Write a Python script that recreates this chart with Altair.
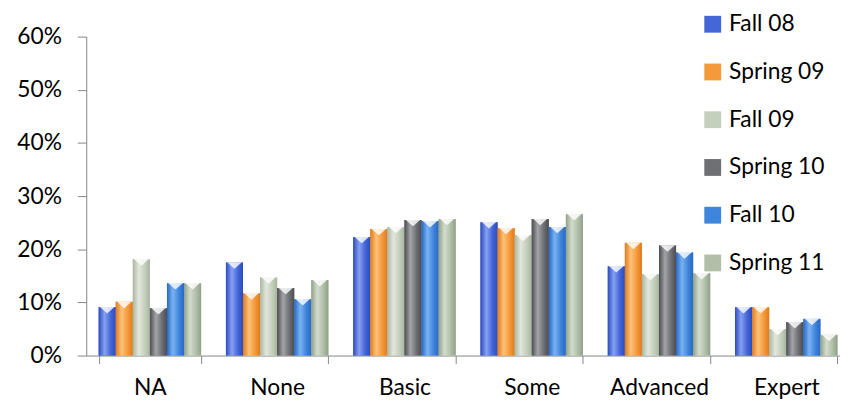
import altair as alt
import pandas as pd

categories = ["NA", "None", "Basic", "Some", "Advanced", "Expert"]
series = ["Fall 08", "Spring 09", "Fall 09", "Spring 10", "Fall 10", "Spring 11"]

fall08 = [9.1, 17.5, 22.3, 25.1, 16.8, 9.1]
spring09 = [10.1, 11.7, 23.8, 24.0, 21.2, 9.1]
fall09 = [18.1, 14.7, 24.2, 22.7, 15.3, 5.0]
spring10 = [8.9, 12.7, 25.5, 25.7, 20.7, 6.3]
fall10 = [13.6, 10.6, 25.3, 24.2, 19.4, 6.9]
spring11 = [13.6, 14.2, 25.7, 26.6, 15.5, 3.9]

base_colors = ["#4566d6", "#f49a3b", "#c5cfbd", "#6e7074", "#3f85db", "#b1bfa9"]
dark_colors = ["#2a4bbd", "#e07a1c", "#a9b5a0", "#4b4d51", "#2868c4", "#91a189"]
light_colors = ["#86a0f2", "#fcc27a", "#e2e8dc", "#a2a4a8", "#7ab2f2", "#d3dccd"]

y_ticks = [0, 10, 20, 30, 40, 50, 60]

all_values = [fall08, spring09, fall09, spring10, fall10, spring11]
rows = []
for s, vals in zip(series, all_values):
    for c, v in zip(categories, vals):
        rows.append({"category": c, "series": s, "value": v})
df = pd.DataFrame(rows)

FONT = "Lato"

x_enc = alt.X(
    "category:N",
    sort=categories,
    scale=alt.Scale(domain=categories, range=[0, 771], paddingInner=0.195, paddingOuter=0.0975),
    axis=alt.Axis(
        title=None, labelAngle=0, tickBand="extent", tickSize=8, labelPadding=13,
        labelFont=FONT, labelFontSize=23, labelColor="#000000",
        domainColor="#868686", tickColor="#868686", grid=False,
    ),
)
xo_enc = alt.XOffset(
    "series:N", sort=series,
    scale=alt.Scale(domain=series, paddingInner=0, paddingOuter=0),
)
y_enc = alt.Y(
    "value:Q",
    scale=alt.Scale(domain=[0, 60], nice=False),
    axis=alt.Axis(
        title=None, values=y_ticks, labelExpr="datum.value + '%'",
        tickSize=9, labelPadding=16, labelFont=FONT, labelFontSize=23,
        labelColor="#000000", domainColor="#868686", tickColor="#868686", grid=False,
    ),
)

base = alt.Chart(df).encode(x=x_enc, xOffset=xo_enc, y=y_enc)

bars = base.mark_bar(stroke=None).encode(
    color=alt.Color(
        "series:N", sort=series,
        scale=alt.Scale(domain=series, range=base_colors),
        legend=alt.Legend(
            title=None, orient="none", legendX=621, legendY=-24,
            symbolType="square", symbolSize=289, symbolStrokeWidth=0,
            labelFont=FONT, labelFontSize=23, labelColor="#000000",
            labelOffset=5, rowPadding=24.2, padding=0,
        ),
    )
)

layers = [bars]
for s, d, l, b in zip(series, dark_colors, light_colors, base_colors):
    grad = {
        "gradient": "linear", "x1": 0, "x2": 1, "y1": 0, "y2": 0,
        "stops": [
            {"offset": 0, "color": d},
            {"offset": 0.35, "color": l},
            {"offset": 0.7, "color": b},
            {"offset": 1, "color": d},
        ],
    }
    layers.append(base.transform_filter(alt.datum.series == s).mark_bar(color=grad))

tri = base.mark_point(
    shape="M-1,-0.45L1,-0.45L0,0.45Z", filled=True, size=225,
    color="#ffffff", opacity=0.8, yOffset=3, strokeWidth=0,
)
layers.append(tri)

chart = alt.layer(*layers).properties(
    width=753, height=322,
    autosize=alt.AutoSizeParams(type="none"),
    padding={"left": 79, "top": 27, "right": 8, "bottom": 45},
).configure_view(stroke=None)

chart.save("out.html", embed_options={"renderer": "svg", "actions": False})
